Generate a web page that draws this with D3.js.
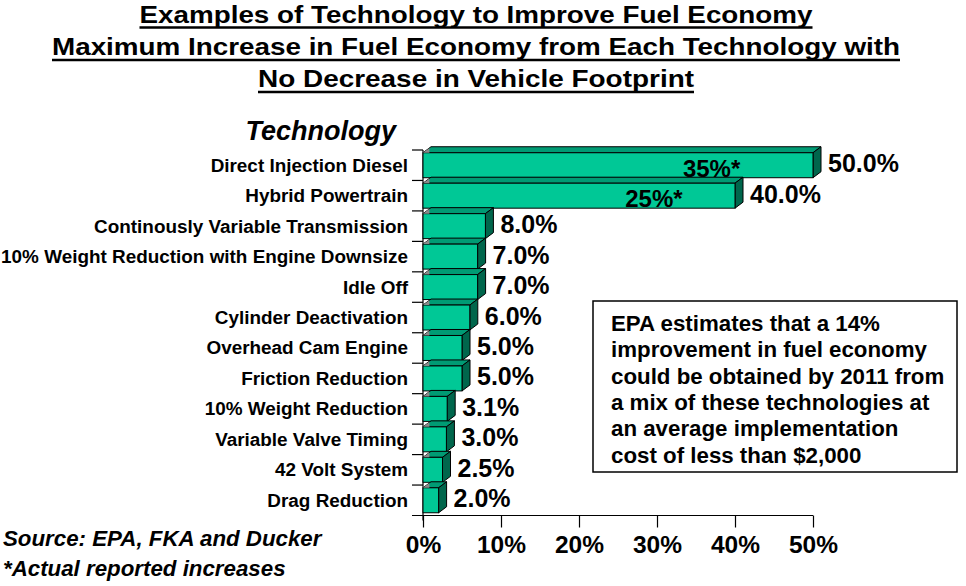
<!DOCTYPE html>
<html>
<head>
<meta charset="utf-8">
<script src="https://cdn.jsdelivr.net/npm/d3@7"></script>
<style>
  html, body { margin: 0; padding: 0; background: #fff; }
  svg { display: block; font-family: "Liberation Sans", Arial, sans-serif; }
</style>
</head>
<body>
<svg id="chart" width="966" height="586"></svg>
<script>
// ---- data ----
const categories = [
  "Direct Injection Diesel",
  "Hybrid Powertrain",
  "Continously Variable Transmission",
  "10% Weight Reduction with Engine Downsize",
  "Idle Off",
  "Cylinder Deactivation",
  "Overhead Cam Engine",
  "Friction Reduction",
  "10% Weight Reduction",
  "Variable Valve Timing",
  "42 Volt System",
  "Drag Reduction"
];
const maxIncrease = [50.0, 40.0, 8.0, 7.0, 7.0, 6.0, 5.0, 5.0, 3.1, 3.0, 2.5, 2.0];
const actualIncrease = [35, 25, null, null, null, null, null, null, null, null, null, null];
const xTicks = [0, 10, 20, 30, 40, 50];
const titleLines = [
  "Examples of Technology to Improve Fuel Economy",
  "Maximum Increase in Fuel Economy from Each Technology with",
  "No Decrease in Vehicle Footprint"
];
const noteLines = [
  "EPA estimates that a 14%",
  "improvement in fuel economy",
  "could be obtained by 2011 from",
  "a mix of these technologies at",
  "an average implementation",
  "cost of less than $2,000"
];
const footLines = ["Source: EPA, FKA and Ducker", "*Actual reported increases"];
const axisTitle = "Technology";

// ---- drawing ----
const svg = d3.select("#chart");
const data = categories.map((c, i) => ({ c, v: maxIncrease[i], a: actualIncrease[i] }));

const x = d3.scaleLinear().domain([0, 50]).range([423, 813]);
const y = d3.scaleBand().domain(categories).range([150, 515.5])
  .paddingInner(0.18).paddingOuter(0.09);
const step = y.step(), bw = y.bandwidth();
const dx = 8, dy = 6;

// Title
const titleWidths = [673, 848, 436];
const titleBase = [22.5, 55, 87];
titleLines.forEach((t, i) => {
  svg.append("text")
    .attr("x", 476).attr("y", titleBase[i])
    .attr("text-anchor", "middle")
    .attr("font-size", 24.5).attr("font-weight", "bold")
    .attr("textLength", titleWidths[i]).attr("lengthAdjust", "spacingAndGlyphs")
    .text(t);
  svg.append("line")
    .attr("x1", 476 - titleWidths[i] / 2).attr("x2", 476 + titleWidths[i] / 2)
    .attr("y1", titleBase[i] + 5).attr("y2", titleBase[i] + 5)
    .attr("stroke", "#000").attr("stroke-width", 2.5);
});

// Axis title
svg.append("text").attr("x", 396).attr("y", 140)
  .attr("text-anchor", "end").attr("font-size", 27)
  .attr("font-weight", "bold").attr("font-style", "italic")
  .text(axisTitle);

// Category boundary ticks and y axis line
const boundaries = categories.map(c => y(c) - (step - bw) / 2).concat([y.range()[1]]);
const yAxisG = svg.append("g");
yAxisG.append("line").attr("x1", x(0)).attr("x2", x(0))
  .attr("y1", boundaries[0]).attr("y2", boundaries[boundaries.length - 1] + 5)
  .attr("stroke", "#000").attr("stroke-width", 1.2);
yAxisG.selectAll("line.tk").data(boundaries.slice(0, -1)).join("line")
  .attr("class", "tk")
  .attr("x1", x(0) - 11).attr("x2", x(0))
  .attr("y1", d => d).attr("y2", d => d)
  .attr("stroke", "#000").attr("stroke-width", 1.2);

// Category labels
svg.append("g").selectAll("text").data(data).join("text")
  .attr("x", 408)
  .attr("y", d => y(d.c) + bw / 2 + 6.5)
  .attr("text-anchor", "end")
  .attr("font-size", 18.9).attr("font-weight", "bold")
  .text(d => d.c);

// Bars (3D)
const bars = svg.append("g").selectAll("g").data(data).join("g");
bars.each(function (d) {
  const g = d3.select(this);
  const x0 = x(0), x1 = x(d.v), top = y(d.c), bot = top + bw;
  g.append("path")
    .attr("d", `M${x0},${top}L${x0 + dx},${top - dy}L${x1 + dx},${top - dy}L${x1},${top}Z`)
    .attr("fill", "#009b74").attr("stroke", "#000").attr("stroke-width", 1).attr("stroke-linejoin", "round");
  g.append("path")
    .attr("d", `M${x1},${top}L${x1 + dx},${top - dy}L${x1 + dx},${bot - dy}L${x1},${bot}Z`)
    .attr("fill", "#00664c").attr("stroke", "#000").attr("stroke-width", 1).attr("stroke-linejoin", "round");
  g.append("rect")
    .attr("x", x0).attr("y", top).attr("width", x1 - x0).attr("height", bw)
    .attr("fill", "#00c896").attr("stroke", "#000").attr("stroke-width", 1);
  g.append("path")
    .attr("d", `M${x0},${top}L${x0 + dx * 0.8},${top - dy * 0.8}L${x0 + dx * 0.8},${top}Z`)
    .attr("fill", "#8a8a8a");
});

// Inside "actual" labels
svg.append("g").selectAll("text").data(data.filter(d => d.a != null)).join("text")
  .attr("x", d => x(d.v * 0.74))
  .attr("y", d => y(d.c) + bw - 1)
  .attr("text-anchor", "middle")
  .attr("font-size", 24).attr("font-weight", "bold")
  .text(d => d.a + "%*");

// Value labels
svg.append("g").selectAll("text").data(data).join("text")
  .attr("x", d => x(d.v) + dx + 7)
  .attr("y", d => y(d.c) + bw / 2 + 7)
  .attr("font-size", 25).attr("font-weight", "bold")
  .text(d => d.v.toFixed(1) + "%");

// X axis
const xAxis = d3.axisBottom(x).tickValues(xTicks).tickFormat(d => d + "%")
  .tickSizeInner(12).tickSizeOuter(0).tickPadding(8);
const xg = svg.append("g").attr("transform", `translate(0,${y.range()[1]})`).call(xAxis);
xg.select(".domain").remove();
xg.append("line").attr("x1", x(0) - 11).attr("x2", x(50)).attr("y1", 0).attr("y2", 0)
  .attr("stroke", "#000").attr("stroke-width", 1.2);
xg.selectAll(".tick line").attr("stroke", "#000").attr("stroke-width", 1.2);
xg.selectAll(".tick text")
  .attr("font-family", "Liberation Sans, Arial, sans-serif")
  .attr("font-size", 24.5).attr("font-weight", "bold").attr("fill", "#000")
  .attr("dy", "0.71em");

// Note box
svg.append("rect").attr("x", 593).attr("y", 301).attr("width", 364).attr("height", 171)
  .attr("fill", "#fff").attr("stroke", "#000").attr("stroke-width", 1.5);
svg.append("g").selectAll("text").data(noteLines).join("text")
  .attr("x", 611).attr("y", (d, i) => 331 + i * 26.3)
  .attr("font-size", 22.3).attr("font-weight", "bold")
  .text(d => d);

// Footnotes
svg.append("g").selectAll("text").data(footLines).join("text")
  .attr("x", 3).attr("y", (d, i) => 546 + i * 30)
  .attr("font-size", 22.3).attr("font-weight", "bold").attr("font-style", "italic")
  .text(d => d);
</script>
</body>
</html>
